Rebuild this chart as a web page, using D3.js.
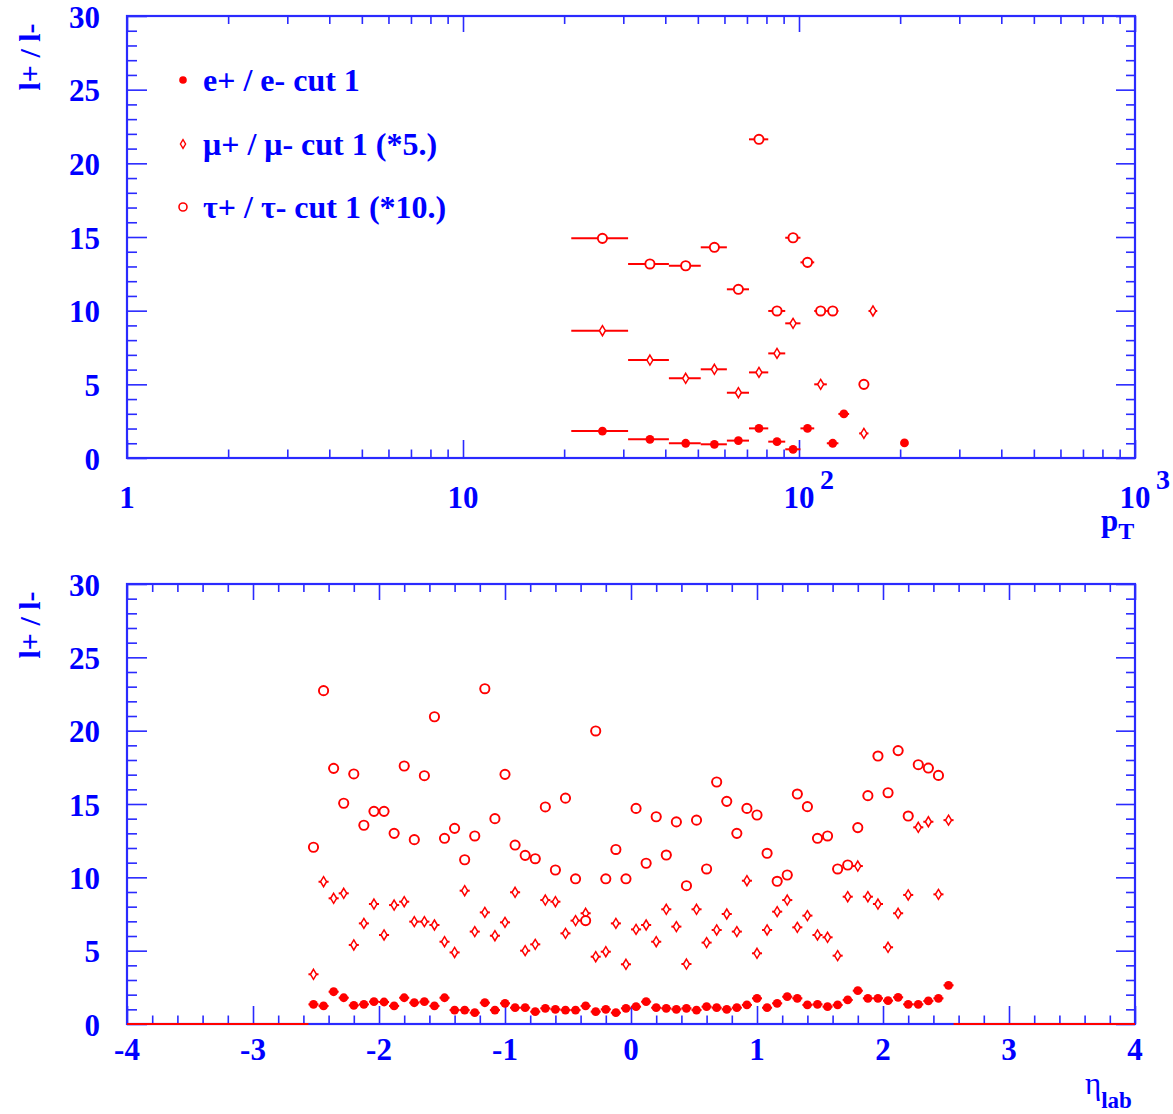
<!DOCTYPE html>
<html><head><meta charset="utf-8">
<script src="https://cdn.jsdelivr.net/npm/d3@7"></script>
<style>body{margin:0;background:#fff}svg{display:block}</style>
</head><body>
<svg id="c" width="1173" height="1114"></svg>
<script>
// ---------- data: top panel (ratio vs pT, log x, bins of width 10) ----------
const ptCenters = [26, 36, 46, 56, 66, 76, 86, 96, 106, 116, 126, 136, 156, 166, 206];
const ptBinWidth = 10;
const eTop   = [1.83, 1.27, 1.00, 0.93, 1.18, 2.01, 1.11, 0.59, 2.01, null, 1.00, 2.99, null, null, 1.02];
const muTop  = [8.64, 6.65, 5.41, 6.02, 4.43, 5.81, 7.10, 9.14, null, 5.00, null, null, 1.67, 9.98, null];
const tauTop = [14.91, 13.17, 13.05, 14.30, 11.45, 21.63, 9.98, 14.95, 13.28, 9.98, 9.98, null, 5.00, null, null];

// ---------- data: bottom panel (ratio vs eta_lab, bins of width 0.08) ----------
const etaFirstCenter = -2.52;
const etaBinWidth = 0.08;
const eBottom = [1.34,1.23,2.20,1.79,1.27,1.34,1.52,1.50,1.23,1.79,1.45,1.52,1.23,1.79,0.95,0.95,0.77,1.45,0.95,1.41,1.11,1.11,0.84,1.07,1.00,0.95,0.95,1.23,
                 0.84,1.00,0.77,1.07,1.18,1.52,1.11,1.07,1.00,1.07,0.95,1.18,1.11,1.00,1.11,1.30,1.75,1.11,1.41,1.86,1.75,1.30,1.34,1.18,1.30,1.64,2.27,1.75,1.75,1.59,1.82,1.34,1.34,1.57,1.75,2.64];
const muBottom = [3.39,9.70,8.57,8.91,5.39,6.86,8.18,6.07,8.11,8.34,6.98,6.98,6.75,5.61,4.88,9.09,6.30,7.61,6.02,6.93,8.98,5.00,5.43,8.45,8.34,6.18,7.05,7.55,
                  4.59,4.93,6.86,4.07,6.45,6.75,5.61,7.82,6.64,4.09,7.82,5.55,6.41,7.50,6.30,9.77,4.82,6.41,7.66,8.45,6.59,7.39,6.07,5.91,4.66,8.68,10.77,8.68,8.18,5.23,7.55,8.80,13.41,13.79,8.84,13.90];
const tauBottom = [12.05,22.73,17.43,15.05,17.05,13.55,14.50,14.50,13.00,17.59,12.57,16.93,20.95,12.66,13.34,11.20,12.82,22.86,14.00,17.02,12.20,11.50,11.27,14.80,10.50,15.40,9.90,7.05,
                   19.98,9.90,11.90,9.90,14.70,10.96,14.13,11.52,13.78,9.43,13.90,10.57,16.50,15.18,13.00,14.70,14.25,11.64,9.73,10.16,15.68,14.82,12.66,12.82,10.57,10.84,13.39,15.57,18.27,15.77,18.64,14.18,17.68,17.45,16.95,null];
const etaEmpty = [[-4, -2.56], [2.56, 4]];

// ---------- ticks & labels ----------
const yMajor = [0, 5, 10, 15, 20, 25, 30];
const ptMajor = [1, 10, 100, 1000];
const ptTickLabels = [{v: 1, base: "1", exp: ""}, {v: 10, base: "10", exp: ""}, {v: 100, base: "10", exp: "2"}, {v: 1000, base: "10", exp: "3"}];
const etaMajor = [-4, -3, -2, -1, 0, 1, 2, 3, 4];
const legendLabels = ["e+ / e- cut 1", "\u03bc+ / \u03bc- cut 1 (*5.)", "\u03c4+ / \u03c4- cut 1 (*10.)"];
const yTitle = "l+ / l-";

// ---------- styles ----------
const BLUE = "#0000ff", AXIS = "#2a2aff", RED = "#ff0000";
const FONT = "'Liberation Serif', 'Times New Roman', serif";

const svg = d3.select("#c");
const L = 127, R = 1135;
const pTop = {T: 16, B: 458}, pBot = {T: 584, B: 1024};

const xPt = d3.scaleLog().domain([1, 1000]).range([L, R]);
const xEta = d3.scaleLinear().domain([-4, 4]).range([L, R]);
const yTop = d3.scaleLinear().domain([0, 30]).range([pTop.B, pTop.T]);
const yBot = d3.scaleLinear().domain([0, 30]).range([pBot.B, pBot.T]);

const yMinor = d3.range(0, 31, 1).filter(v => v % 5 !== 0);
const ptMinor = [];
[1, 10, 100].forEach(d => { for (let m = 2; m <= 9; m++) ptMinor.push(d * m); });
const etaMinor = d3.range(-40, 41, 2).map(v => v / 10).filter(v => Math.abs(v - Math.round(v)) > 1e-6);

function styleAxis(g) {
  g.select(".domain").remove();
  g.selectAll(".tick line").attr("stroke", AXIS).attr("stroke-width", 1.6);
}

function frameAxes(x, y, P, xMaj, xMin) {
  const g = svg.append("g");
  g.append("g").attr("transform", `translate(0,${P.B})`).call(d3.axisTop(x).tickValues(xMaj).tickSize(18).tickFormat("")).call(styleAxis);
  g.append("g").attr("transform", `translate(0,${P.B})`).call(d3.axisTop(x).tickValues(xMin).tickSize(8.5).tickFormat("")).call(styleAxis);
  g.append("g").attr("transform", `translate(0,${P.T})`).call(d3.axisBottom(x).tickValues(xMaj).tickSize(16).tickFormat("")).call(styleAxis);
  g.append("g").attr("transform", `translate(0,${P.T})`).call(d3.axisBottom(x).tickValues(xMin).tickSize(8).tickFormat("")).call(styleAxis);
  g.append("g").attr("transform", `translate(${L},0)`).call(d3.axisRight(y).tickValues(yMajor).tickSize(20).tickFormat("")).call(styleAxis);
  g.append("g").attr("transform", `translate(${L},0)`).call(d3.axisRight(y).tickValues(yMinor).tickSize(10).tickFormat("")).call(styleAxis);
  g.append("g").attr("transform", `translate(${R},0)`).call(d3.axisLeft(y).tickValues(yMajor).tickSize(19).tickFormat("")).call(styleAxis);
  g.append("g").attr("transform", `translate(${R},0)`).call(d3.axisLeft(y).tickValues(yMinor).tickSize(9).tickFormat("")).call(styleAxis);
  g.append("rect").attr("x", L).attr("y", P.T).attr("width", R - L).attr("height", P.B - P.T)
    .attr("fill", "none").attr("stroke", AXIS).attr("stroke-width", 2.2);
  const yl = g.append("g").attr("transform", `translate(${L},0)`)
    .call(d3.axisLeft(y).tickValues(yMajor).tickSize(0).tickPadding(27).tickFormat(d3.format("d")));
  yl.select(".domain").remove();
  yl.selectAll("text").attr("font-family", FONT).attr("font-weight", "bold").attr("font-size", 31).attr("fill", BLUE).attr("dy", "0.36em");
  g.append("text").attr("transform", `translate(40,${P.T + 41}) rotate(-90)`)
    .attr("text-anchor", "middle").attr("font-family", FONT).attr("font-weight", "bold")
    .attr("font-size", 30).attr("fill", BLUE).text(yTitle);
  return g;
}

function diamondPath(cx, cy, w, h) {
  return `M${cx},${cy - h}L${cx + w},${cy}L${cx},${cy + h}L${cx - w},${cy}Z`;
}

function drawSeries(layer, xs, lo, hi, vals, y, kind, x) {
  const pts = vals.map((v, i) => ({v, c: xs[i], lo: lo[i], hi: hi[i]})).filter(d => d.v !== null);
  layer.selectAll(null).data(pts).join("line")
    .attr("x1", d => x(d.lo)).attr("x2", d => x(d.hi))
    .attr("y1", d => y(d.v)).attr("y2", d => y(d.v))
    .attr("stroke", RED).attr("stroke-width", 2);
  if (kind === "filled") {
    layer.selectAll(null).data(pts).join("circle")
      .attr("cx", d => x(d.c)).attr("cy", d => y(d.v)).attr("r", 4.4).attr("fill", RED);
  } else if (kind === "circle") {
    layer.selectAll(null).data(pts).join("circle")
      .attr("cx", d => x(d.c)).attr("cy", d => y(d.v)).attr("r", 4.6)
      .attr("fill", "#fff").attr("stroke", RED).attr("stroke-width", 1.9);
  } else {
    layer.selectAll(null).data(pts).join("path")
      .attr("d", d => diamondPath(x(d.c), y(d.v), 3, 5))
      .attr("fill", "#fff").attr("stroke", RED).attr("stroke-width", 1.5);
  }
}

// ================= TOP PANEL =================
frameAxes(xPt, yTop, pTop, ptMajor, ptMinor);
const ptLo = ptCenters.map(c => c - ptBinWidth / 2), ptHi = ptCenters.map(c => c + ptBinWidth / 2);
const topLayer = svg.append("g");
drawSeries(topLayer, ptCenters, ptLo, ptHi, eTop, yTop, "filled", xPt);
drawSeries(topLayer, ptCenters, ptLo, ptHi, muTop, yTop, "diamond", xPt);
drawSeries(topLayer, ptCenters, ptLo, ptHi, tauTop, yTop, "circle", xPt);

const xl = svg.append("g").attr("font-family", FONT).attr("font-weight", "bold").attr("fill", BLUE);
xl.selectAll(null).data(ptTickLabels).join("text")
  .attr("x", d => xPt(d.v)).attr("y", 508).attr("text-anchor", "middle").attr("font-size", 31).text(d => d.base);
xl.selectAll(null).data(ptTickLabels.filter(d => d.exp)).join("text")
  .attr("x", d => xPt(d.v) + 21).attr("y", 489).attr("font-size", 28).text(d => d.exp);
const ptT = svg.append("text").attr("x", 1101).attr("y", 531).attr("font-family", FONT).attr("font-weight", "bold").attr("fill", BLUE).attr("font-size", 31);
ptT.append("tspan").text("p");
ptT.append("tspan").attr("font-size", 24).attr("dy", 8).text("T");

const leg = svg.append("g");
const legY = [80, 144, 207];
legendLabels.forEach((t, i) => {
  leg.append("text").attr("x", 203).attr("y", legY[i] + 11).attr("font-family", FONT).attr("font-weight", "bold")
    .attr("font-size", 32).attr("fill", BLUE).text(t);
});
leg.append("circle").attr("cx", 183).attr("cy", legY[0]).attr("r", 3.8).attr("fill", RED);
leg.append("path").attr("d", diamondPath(183, legY[1], 2.6, 4.3)).attr("fill", "#fff").attr("stroke", RED).attr("stroke-width", 1.4);
leg.append("circle").attr("cx", 183).attr("cy", legY[2]).attr("r", 4).attr("fill", "#fff").attr("stroke", RED).attr("stroke-width", 1.6);

// ================= BOTTOM PANEL =================
frameAxes(xEta, yBot, pBot, etaMajor, etaMinor);
const etaCenters = eBottom.map((_, i) => etaFirstCenter + i * etaBinWidth);
const etaLo = etaCenters.map(c => c - etaBinWidth / 2), etaHi = etaCenters.map(c => c + etaBinWidth / 2);
const botLayer = svg.append("g");
botLayer.selectAll(null).data(etaEmpty).join("line")
  .attr("x1", d => xEta(d[0])).attr("x2", d => xEta(d[1]))
  .attr("y1", yBot(0)).attr("y2", yBot(0)).attr("stroke", RED).attr("stroke-width", 2);
drawSeries(botLayer, etaCenters, etaLo, etaHi, eBottom, yBot, "filled", xEta);
drawSeries(botLayer, etaCenters, etaLo, etaHi, muBottom, yBot, "diamond", xEta);
drawSeries(botLayer, etaCenters, etaLo, etaHi, tauBottom, yBot, "circle", xEta);

const xl2 = svg.append("g").attr("font-family", FONT).attr("font-weight", "bold").attr("fill", BLUE).attr("font-size", 31);
xl2.selectAll(null).data(etaMajor).join("text")
  .attr("x", d => xEta(d)).attr("y", 1060).attr("text-anchor", "middle").text(d => d);
const etT = svg.append("text").attr("x", 1085).attr("y", 1094).attr("font-family", FONT).attr("font-weight", "bold").attr("fill", BLUE).attr("font-size", 31);
etT.append("tspan").attr("font-weight", "normal").text("\u03b7");
etT.append("tspan").attr("font-size", 23).attr("dy", 14).text("lab");
</script>
</body></html>
